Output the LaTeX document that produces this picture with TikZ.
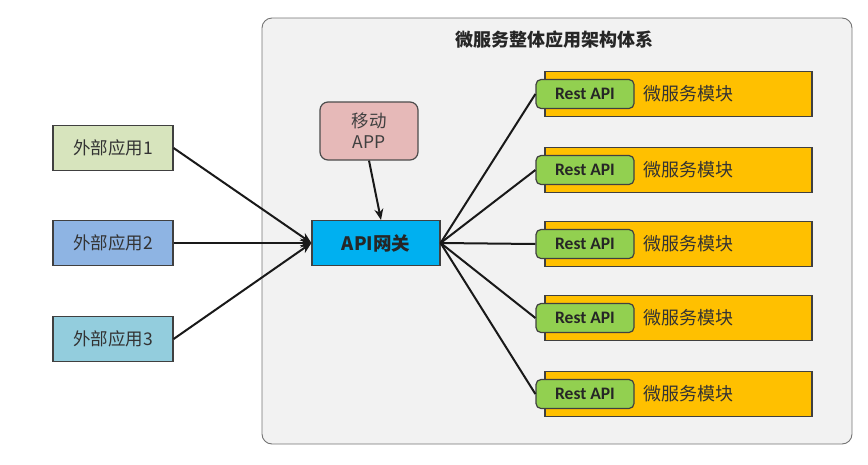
\documentclass[tikz,border=0pt]{standalone}
\usepackage{fontspec}
\setmainfont{Carlito}
\newfontfamily\cjk{Noto Sans CJK SC}
\usetikzlibrary{arrows.meta}

\definecolor{frameback}{HTML}{F2F2F2}
\definecolor{appone}{HTML}{D7E4BD}
\definecolor{apptwo}{HTML}{8EB4E3}
\definecolor{appthree}{HTML}{93CDDD}
\definecolor{mobilefill}{HTML}{E6B9B8}
\definecolor{gatefill}{HTML}{00B0F0}
\definecolor{restfill}{HTML}{92D050}
\definecolor{modfill}{HTML}{FFC000}

\tikzset{
  appbox/.style={draw=black!75, line width=1.2pt, minimum width=120pt, minimum height=45pt,
    font=\cjk\fontsize{17.5}{20}\selectfont, text=black!80},
  gatebox/.style={draw=black!75, line width=1.2pt, fill=gatefill, minimum width=128pt,
    minimum height=45pt, font=\cjk\bfseries\fontsize{18.5}{21}\selectfont, text=black!85},
  mobilebox/.style={draw=black!70, line width=1.2pt, fill=mobilefill, rounded corners=8pt,
    minimum width=98pt, minimum height=58pt, align=center,
    font=\cjk\fontsize{17.5}{21}\selectfont, text=black!75},
  modbox/.style={draw=black!75, line width=1.2pt, fill=modfill, minimum width=267pt,
    minimum height=45pt},
  restbox/.style={draw=black!75, line width=1.2pt, fill=restfill, rounded corners=5pt,
    minimum width=98pt, minimum height=29pt, font=\bfseries\fontsize{17.5}{20}\selectfont,
    text=black!85},
  link/.style={line width=2pt, black!90},
  tolink/.style={link, -{Stealth[length=11pt,width=9pt]}}
}

\begin{document}
\begin{tikzpicture}[x=1pt, y=-1pt]
  \useasboundingbox (0,0) rectangle (868,464);
  % Cadre du systeme
  \draw[draw=black!55, line width=0.9pt, fill=frameback, rounded corners=10pt]
    (262,18) rectangle (852,444);
  \node[font=\cjk\bfseries\fontsize{18}{21}\selectfont, text=black!85] (title) at (554,40)
    {微服务整体应用架构体系};
  % Applications externes
  \node[appbox, fill=appone] (ext1) at (113,148) {外部应用1};
  \node[appbox, fill=apptwo] (ext2) at (113,243) {外部应用2};
  \node[appbox, fill=appthree] (ext3) at (113,339) {外部应用3};
  % Passerelle et mobile
  \node[gatebox] (gate) at (376,243) {API网关};
  \node[mobilebox] (mobile) at (369,131) {移动\\APP};
  % Modules
  \foreach \i/\y in {1/94, 2/170, 3/244, 4/318, 5/394} {
    \node[modbox] (mod\i) at (678.5,\y) {};
    \node[restbox] (rest\i) at (585,\y) {Rest API};
    \node[anchor=west, font=\cjk\fontsize{18}{21}\selectfont, text=black!80] (name\i)
      at (640,\y) {微服务模块};
    \draw[link] (gate.east) -- (rest\i.west);
  }
  % Fleches vers la passerelle
  \draw[tolink] (ext1.east) -- (gate.west);
  \draw[tolink] (ext2.east) -- (gate.west);
  \draw[tolink] (ext3.east) -- (gate.west);
  \draw[tolink] (mobile.south) -- ([xshift=5pt]gate.north);
\end{tikzpicture}
\end{document}
